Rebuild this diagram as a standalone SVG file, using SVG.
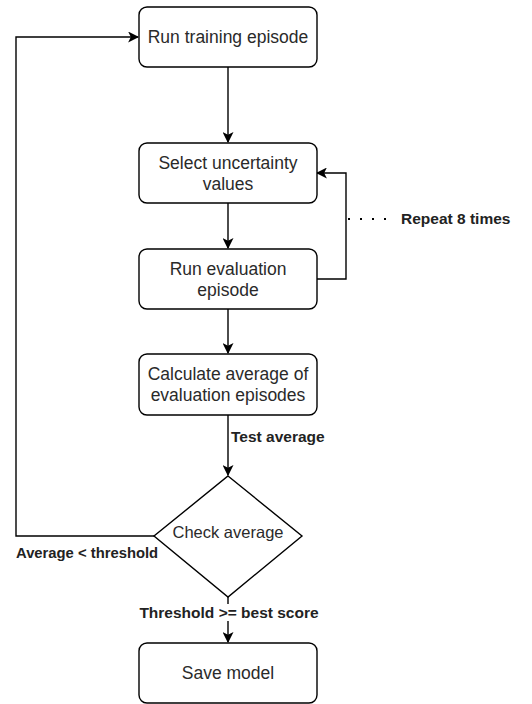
<svg xmlns="http://www.w3.org/2000/svg" width="532" height="704" viewBox="0 0 532 704">
<style>
.node{fill:#fff;stroke:#000;stroke-width:1.4}
.nt{font-family:"Liberation Sans",Arial,sans-serif;font-size:17.5px;fill:#2a2a2a;text-anchor:middle}
.lbl{font-family:"Liberation Sans",Arial,sans-serif;font-size:15.5px;font-weight:bold;fill:#222}
.edge{fill:none;stroke:#000;stroke-width:1.4}
</style>
<defs>
<marker id="arr" markerWidth="11" markerHeight="11" viewBox="0 0 10 10" refX="9" refY="5" orient="auto" markerUnits="userSpaceOnUse">
<path d="M0,0 L10,5 L0,10 L2.5,5 Z" fill="#000"/>
</marker>
</defs>
<rect width="532" height="704" fill="#fff"/>
<g id="connectors">
<path class="edge" d="M228,67 V142" marker-end="url(#arr)"/>
<path class="edge" d="M228,203 V248" marker-end="url(#arr)"/>
<path class="edge" d="M228,309 V353" marker-end="url(#arr)"/>
<path class="edge" d="M228,415 V475" marker-end="url(#arr)"/>
<path class="edge" d="M228,597 V642" marker-end="url(#arr)"/>
<path class="edge" d="M316,279 H346 V173 H317" marker-end="url(#arr)"/>
<path class="edge" d="M154,536 H16 V37 H138" marker-end="url(#arr)"/>
<line x1="348" y1="219" x2="388" y2="219" stroke="#000" stroke-width="2" stroke-dasharray="2 10"/>
<rect x="144" y="604" width="172" height="17" fill="#fff"/>
<text class="lbl" x="231" y="442">Test average</text>
<text class="lbl" x="401" y="224">Repeat 8 times</text>
<text class="lbl" x="16" y="558" style="font-size:14.8px">Average &lt; threshold</text>
<text class="lbl" x="229" y="618" text-anchor="middle">Threshold &gt;= best score</text>
</g>
<g id="n1">
<rect class="node" x="139" y="7" width="178" height="60" rx="8"/>
<text class="nt" x="228" y="43">Run training episode</text>
</g>
<g id="n2">
<rect class="node" x="139" y="143" width="178" height="60" rx="8"/>
<text class="nt" x="228" y="168.5">Select uncertainty</text>
<text class="nt" x="228" y="189.5">values</text>
</g>
<g id="n3">
<rect class="node" x="139" y="249" width="178" height="60" rx="8"/>
<text class="nt" x="228" y="274.5">Run evaluation</text>
<text class="nt" x="228" y="295.5">episode</text>
</g>
<g id="n4">
<rect class="node" x="139" y="354" width="178" height="61" rx="8"/>
<text class="nt" x="228" y="380">Calculate average of</text>
<text class="nt" x="228" y="401">evaluation episodes</text>
</g>
<g id="n5">
<path class="node" d="M228,476 L302,536 L228,597 L154,536 Z"/>
<text class="nt" x="228" y="538" style="font-size:16.5px">Check average</text>
</g>
<g id="n6">
<rect class="node" x="139" y="643" width="178" height="60" rx="8"/>
<text class="nt" x="228" y="679">Save model</text>
</g>
</svg>
